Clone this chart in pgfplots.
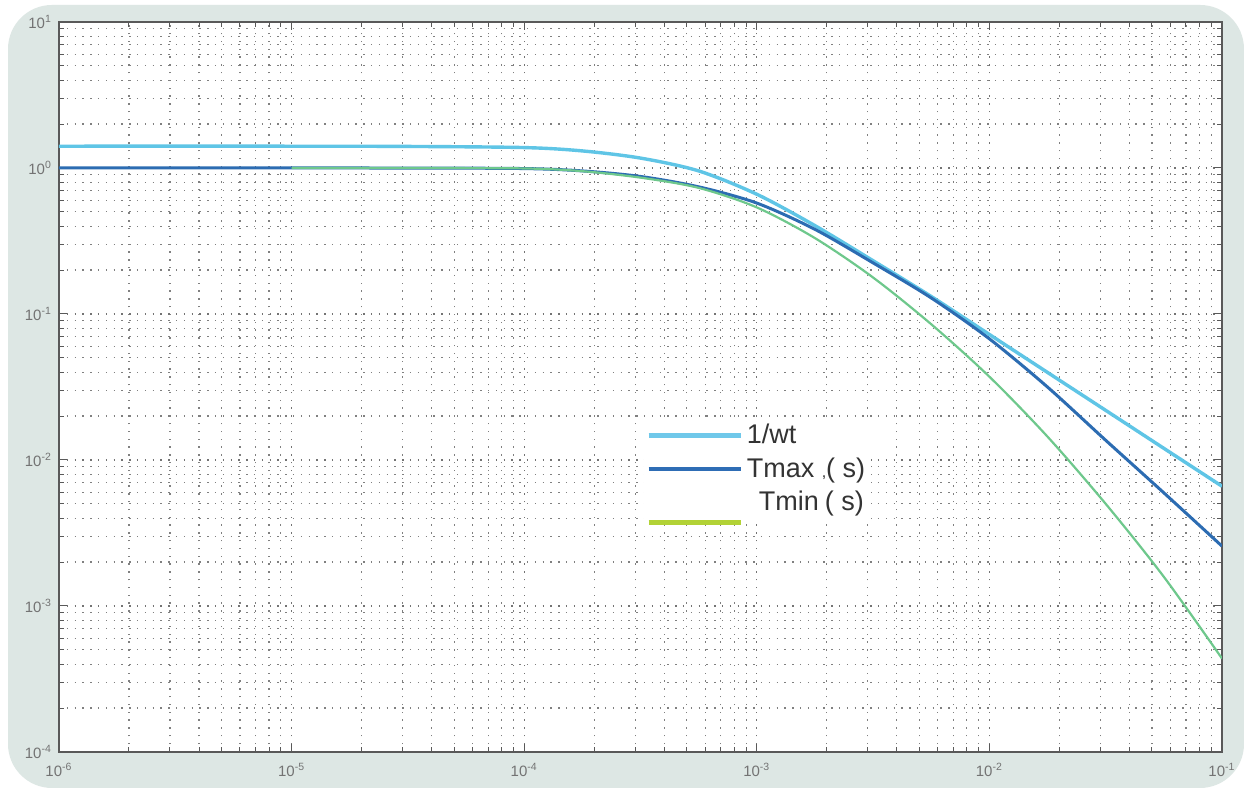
\documentclass[border=0pt]{standalone}
\usepackage{fontspec}
\setmainfont{Liberation Sans}
\usepackage{pgfplots}
\pgfplotsset{compat=1.18}
\definecolor{bgcol}{RGB}{221,231,228}
\definecolor{lblue}{RGB}{95,197,230}
\definecolor{dblue}{RGB}{44,108,178}
\definecolor{tgreen}{RGB}{110,200,140}
\definecolor{lgreen}{RGB}{178,210,54}
\definecolor{lbleg}{RGB}{112,200,234}
\definecolor{dbleg}{RGB}{46,109,181}
\begin{document}
\begin{tikzpicture}[x=1pt,y=1pt]
\useasboundingbox (0,0) rectangle (622,395);
\fill[white] (0,0) rectangle (622,395);
\fill[bgcol, rounded corners=22pt] (4,1) rectangle (622,392.5);
\begin{axis}[
  at={(29.5pt,19pt)}, anchor=south west,
  scale only axis, width=581.5pt, height=365pt,
  xmode=log, ymode=log,
  xmin=1e-6, xmax=1e-1, ymin=1e-4, ymax=10,
  axis background/.style={fill=white},
  xtick={1e-6,1e-5,1e-4,1e-3,1e-2,1e-1},
  xticklabels={10\textsuperscript{-6},10\textsuperscript{-5},10\textsuperscript{-4},10\textsuperscript{-3},10\textsuperscript{-2},10\textsuperscript{-1}},
  ytick={1e-4,1e-3,1e-2,1e-1,1,10},
  yticklabels={10\textsuperscript{-4},10\textsuperscript{-3},10\textsuperscript{-2},10\textsuperscript{-1},10\textsuperscript{0},10\textsuperscript{1}},
  minor xtick={2e-6,3e-6,4e-6,5e-6,6e-6,7e-6,8e-6,9e-6,
               2e-5,3e-5,4e-5,5e-5,6e-5,7e-5,8e-5,9e-5,
               2e-4,3e-4,4e-4,5e-4,6e-4,7e-4,8e-4,9e-4,
               2e-3,3e-3,4e-3,5e-3,6e-3,7e-3,8e-3,9e-3,
               2e-2,3e-2,4e-2,5e-2,6e-2,7e-2,8e-2,9e-2},
  minor ytick={2e-4,3e-4,4e-4,5e-4,6e-4,7e-4,8e-4,9e-4,
               2e-3,3e-3,4e-3,5e-3,6e-3,7e-3,8e-3,9e-3,
               2e-2,3e-2,4e-2,5e-2,6e-2,7e-2,8e-2,9e-2,
               2e-1,3e-1,4e-1,5e-1,6e-1,7e-1,8e-1,9e-1,
               2,3,4,5,6,7,8,9},
  grid=both,
  major grid style={black!55, line width=0.6pt, dash pattern=on 0.7pt off 3.2pt},
  minor grid style={black!50, line width=0.55pt, dash pattern=on 0.7pt off 3.2pt},
  tick align=inside,
  major tick length=4pt, minor tick length=2.5pt,
  every tick/.style={black!65, line width=0.5pt},
  axis line style={black!65, line width=0.7pt},
  tick label style={font=\fontsize{7.5}{8}\selectfont, text=black!55},
  xticklabel style={yshift=-2pt},
  legend style={at={(0.503,0.458)}, anchor=north west, draw=none, fill=white,
    font=\fontsize{13.5}{14.5}\selectfont, text=black!80, inner sep=1pt,
    row sep=1.5pt},
  legend cell align=left,
]
\addplot[lblue, line width=1.7pt, smooth, tension=0.5, forget plot] coordinates {
(1e-6,1.41) (1e-5,1.41) (3.162e-5,1.405) (1e-4,1.380) (1.778e-4,1.309)
(3.162e-4,1.169) (5.623e-4,0.955) (1e-3,0.661) (1.778e-3,0.403)
(3.162e-3,0.2317) (5.623e-3,0.1318) (1e-2,0.0724) (1.778e-2,0.0398)
(3.162e-2,0.02188) (5.623e-2,0.01202) (1e-1,0.00661)};
\addplot[dblue, line width=1.5pt, smooth, tension=0.5, forget plot] coordinates {
(1e-6,1.0) (1e-5,1.0) (3.162e-5,0.999) (1e-4,0.991) (1.778e-4,0.955)
(3.162e-4,0.875) (5.623e-4,0.743) (1e-3,0.575) (1.778e-3,0.380)
(3.162e-3,0.2239) (5.623e-3,0.1288) (1e-2,0.0676) (1.778e-2,0.0316)
(3.162e-2,0.01365) (5.623e-2,0.00596) (1e-1,0.00257)};
\addplot[tgreen, line width=1.1pt, smooth, tension=0.5, forget plot] coordinates {
(1e-5,1.0) (3.162e-5,0.999) (1e-4,0.993) (1.778e-4,0.951)
(3.162e-4,0.859) (5.623e-4,0.731) (1e-3,0.537) (1.778e-3,0.331)
(3.162e-3,0.1778) (5.623e-3,0.0851) (1e-2,0.0372) (1.778e-2,0.01445)
(3.162e-2,0.00501) (5.623e-2,0.001585) (1e-1,0.000437)};
\addlegendimage{legend image code/.code={\draw[lbleg, line width=2.2pt] (0pt,0pt) -- (46pt,0pt);}}
\addlegendentry{1/wt}
\addlegendimage{legend image code/.code={\draw[dbleg, line width=2.2pt] (0pt,0pt) -- (46pt,0pt);}}
\addlegendentry{Tmax {\fontsize{8}{8}\selectfont,}( s)}
\addlegendimage{legend image code/.code={\path[draw=none,fill=none] (0pt,0pt) -- (46pt,0pt); \draw[overlay, lgreen, line width=2.2pt] (0pt,-10pt) -- (46pt,-10pt);}}
\addlegendentry{\hspace{6pt}Tmin\hspace{3pt}( s)}
\end{axis}
\end{tikzpicture}
\end{document}
